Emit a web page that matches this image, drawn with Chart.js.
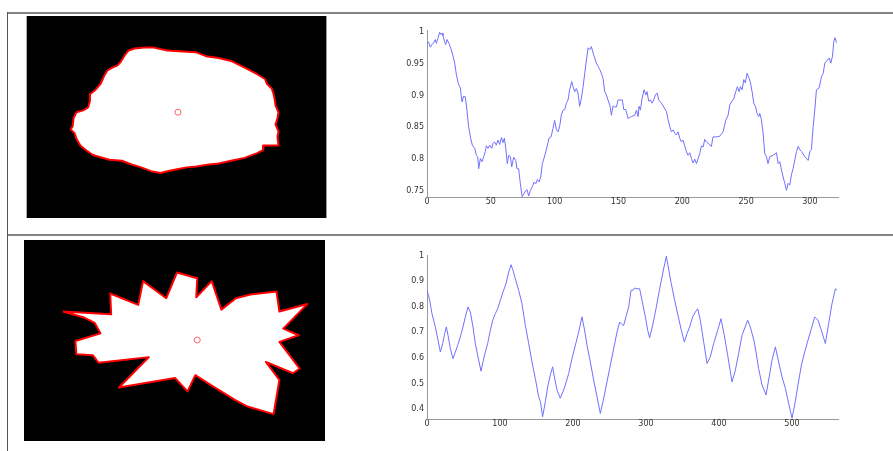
<!DOCTYPE html>
<html><head><meta charset="utf-8">
<script src="https://cdn.jsdelivr.net/npm/chart.js@4/dist/chart.umd.min.js"></script>
<style>
html,body{margin:0;padding:0;background:#fff;width:893px;height:451px;overflow:hidden}
body{position:relative}
canvas{position:absolute}
.ln{position:absolute;background:#858585}
</style></head><body>
<div class="ln" style="left:7px;top:12px;width:886px;height:2px"></div>
<div class="ln" style="left:7px;top:234px;width:886px;height:2px"></div>
<div class="ln" style="left:7px;top:12px;width:1px;height:439px;background:#555"></div>
<div class="ln" style="left:26px;top:16px;width:1px;height:202px;background:#aaa"></div>
<div class="ln" style="left:326px;top:16px;width:1px;height:202px;background:#999"></div>
<canvas id="img1" width="299" height="202" style="left:27px;top:16px;background:#000"></canvas>
<canvas id="img2" width="301" height="201" style="left:24px;top:240px;background:#000"></canvas>
<canvas id="c1" width="455" height="192" style="left:387px;top:25px"></canvas>
<canvas id="c2" width="455" height="189" style="left:387px;top:250px"></canvas>
<script>
// ---- shape outlines (image pixel coordinates) ----
const blobX = [100,106,116,126,140,156,170,180,193,206,220,233,241,243,248,250,251,252,255,254,252,255,254,255,240,239,233,220,206,193,183,170,160,150,140,133,123,113,103,93,80,70,63,56,50,46,44,40,42,43,46,53,58,60,60,66,71,75,78,83,88,91,93,96];
const blobY = [31,29,28,28,31,32,33,37,39,42,49,56,61,66,71,77,82,89,96,102,109,116,122,131,131,136,139,144,147,150,151,153,154,156,158,160,158,154,151,147,146,143,141,136,131,124,118,114,111,102,96,94,91,84,77,72,66,57,52,49,47,44,41,36];
const blobCentre = [151, 96];
const starX = [35,85,84,113,118,142,153,174,173,189,199,214,229,256,259,288,263,279,259,280,273,245,259,253,226,213,189,172,164,151,93,124,72,66,49,48,74,68,56];
const starY = [70,73,51,63,38,56,29,35,55,38,68,56,52,49,70,62,88,95,102,130,135,123,142,178,170,163,148,137,154,140,150,118,124,116,115,101,93,82,76];
const starCentre = [174, 100];

// ---- signature series ----
const s1X = [0,1.3,2.6,3.9,5.2,6.5,7.3,8.6,9.9,10.7,11.8,12.5,13.8,14.6,15.7,17.2,19,20.4,21.7,23,24.8,26.1,27.4,28.7,30,31.3,32.6,34.2,35.5,37.4,38.7,39.7,40.5,41.8,43.1,44.4,45.7,46.5,47.8,49.1,50.7,51.7,53,54.3,55.6,57,58.3,59.6,60.6,61.7,62.9,64,65.3,66.4,67.9,69.5,70.5,71.8,73.1,74.5,75.8,77.1,78.4,79.7,81,82.6,83.9,85.2,86.5,87.8,89.1,90.4,92.2,94,95.6,97.2,98.7,100,101.4,102.7,104,105.2,106.6,107.9,109.2,110.5,111.8,113.4,114.4,115.7,117,118.3,119.6,121,122.3,123.6,124.9,126.2,127.5,128.8,130.1,131.4,132.7,134,135.3,136.6,137.9,139.2,140.5,141.8,143.2,144.5,145.8,147.1,148.4,149.7,151,153.1,154.1,155.7,157.5,160.1,162.8,164.1,165.4,166.1,167.2,168.5,170.1,171.4,172.4,173.7,175,176.3,177.6,179,180.3,181.6,183.7,185.5,187.6,188.9,190.2,191.5,192.8,194.1,195.4,196.7,198,199.3,200.6,201.9,203.2,204.5,205.9,207.2,208.5,209.8,211.1,212.4,213.7,215,216.3,217.6,218.9,220.2,222.8,224.1,226.8,229.3,232,234,235.9,237.2,238.5,240.3,241.9,243.2,244.5,245.6,246.9,248.2,249.4,250.8,252.4,253.4,254.7,256,257.3,258.6,259.9,260.7,262,263.3,264.6,265.9,267.2,268.6,271.2,273.8,275.1,276.4,277.7,279,280.3,281.6,282.9,284.2,285.5,286.8,288.2,289.5,290.8,292.1,293.4,296,298.6,299.9,301.2,302.5,303.8,305.1,307.2,309.1,310.4,311.7,313,315.1,316.4,317.7,318.7,319.7,320.8];
const s1Y = [0.983,0.984,0.976,0.980,0.983,0.988,0.982,0.990,0.9995,0.996,0.998,0.994,0.985,0.980,0.988,0.982,0.972,0.962,0.951,0.933,0.917,0.912,0.890,0.899,0.898,0.877,0.851,0.833,0.822,0.817,0.806,0.804,0.785,0.801,0.796,0.804,0.812,0.821,0.817,0.822,0.817,0.825,0.827,0.822,0.830,0.823,0.834,0.826,0.833,0.817,0.793,0.806,0.804,0.788,0.803,0.798,0.785,0.785,0.762,0.741,0.745,0.750,0.752,0.742,0.751,0.757,0.764,0.761,0.768,0.764,0.772,0.793,0.805,0.819,0.833,0.835,0.848,0.861,0.846,0.843,0.852,0.869,0.877,0.878,0.888,0.893,0.909,0.922,0.914,0.906,0.911,0.904,0.883,0.896,0.914,0.935,0.956,0.975,0.972,0.977,0.967,0.959,0.951,0.946,0.941,0.935,0.927,0.906,0.901,0.893,0.885,0.869,0.884,0.882,0.882,0.893,0.893,0.893,0.878,0.878,0.864,0.867,0.869,0.877,0.867,0.883,0.877,0.896,0.909,0.901,0.906,0.891,0.893,0.888,0.893,0.901,0.904,0.893,0.888,0.882,0.875,0.862,0.851,0.843,0.846,0.841,0.838,0.843,0.833,0.827,0.830,0.821,0.812,0.806,0.810,0.801,0.794,0.800,0.793,0.801,0.809,0.821,0.819,0.831,0.827,0.825,0.820,0.835,0.835,0.836,0.843,0.861,0.869,0.885,0.890,0.895,0.906,0.914,0.906,0.914,0.909,0.925,0.920,0.935,0.927,0.920,0.906,0.888,0.883,0.872,0.867,0.872,0.862,0.841,0.809,0.804,0.793,0.804,0.806,0.810,0.793,0.796,0.783,0.772,0.762,0.751,0.762,0.759,0.775,0.785,0.799,0.812,0.820,0.815,0.812,0.804,0.798,0.812,0.815,0.851,0.877,0.909,0.912,0.930,0.935,0.951,0.954,0.959,0.951,0.962,0.985,0.991,0.983];
const s2X = [0,3.7,6.8,11.4,15.1,18.3,21.5,24.2,26.5,28.8,32,35.6,38.8,42,45.7,49.3,52.5,56.2,59.4,63,66.2,69.4,74,76.7,79.9,83.1,86.8,90,93.6,96.8,100.5,104.1,108.2,111.9,115.1,117.8,121,125.6,130.1,134.7,139.3,143.8,148.4,153,155.3,158.4,162.1,165.8,168.9,172.1,174.4,178.1,182.6,186.3,189.5,194.1,198.6,203.2,207.8,212.3,215.5,219.2,223.7,228.3,232.9,237.4,241.1,245.7,250.2,255.7,260.3,263.9,267.1,269.4,273.1,276.3,279.5,282.2,284.5,287.7,291.3,294.5,299.1,302.3,305,309.1,313.7,318.7,321.9,325.6,327.9,330.1,334.2,338.8,343.8,348.4,352.5,356.2,359.8,363.9,367.6,370.8,374.4,379,383.6,388.1,392.7,398.2,402.7,407.3,411.9,417.8,422.4,426.9,431.5,439.3,442.9,448.4,454.3,458.9,464.4,468,472.6,477.2,481.7,486.3,490.9,495.4,500,503.7,508.2,512.8,517.4,521.9,526.5,531.1,535.6,540.2,545.7,550.2,554.8,559.4,561.6];
const s2Y = [0.864,0.825,0.773,0.721,0.669,0.623,0.656,0.695,0.721,0.688,0.636,0.597,0.623,0.649,0.682,0.721,0.760,0.799,0.779,0.721,0.656,0.610,0.548,0.584,0.623,0.656,0.708,0.747,0.773,0.792,0.825,0.857,0.890,0.935,0.964,0.942,0.909,0.864,0.812,0.727,0.656,0.584,0.519,0.448,0.429,0.370,0.429,0.494,0.532,0.565,0.526,0.474,0.442,0.468,0.494,0.539,0.597,0.649,0.701,0.760,0.714,0.649,0.584,0.513,0.448,0.383,0.429,0.494,0.558,0.636,0.701,0.740,0.730,0.727,0.766,0.799,0.864,0.864,0.873,0.870,0.870,0.825,0.760,0.708,0.678,0.727,0.792,0.870,0.916,0.968,0.997,0.961,0.896,0.831,0.766,0.708,0.662,0.695,0.721,0.760,0.779,0.792,0.747,0.662,0.578,0.604,0.656,0.708,0.753,0.688,0.610,0.506,0.552,0.617,0.688,0.747,0.721,0.662,0.558,0.494,0.455,0.513,0.591,0.643,0.584,0.526,0.481,0.422,0.364,0.416,0.494,0.571,0.623,0.669,0.714,0.760,0.747,0.708,0.656,0.734,0.812,0.870,0.864];

// ---- tick labels ----
const x1Ticks = [0,50,100,150,200,250,300];
const y1Ticks = [0.75,0.8,0.85,0.9,0.95,1];
const x2Ticks = [0,100,200,300,400,500];
const y2Ticks = [0.4,0.5,0.6,0.7,0.8,0.9,1];

Chart.defaults.font.family = "'DejaVu Sans', 'Liberation Sans', sans-serif";

function shapeChart(id, xs, ys, centre, w, h) {
  const pts = xs.map((x, i) => ({x: x, y: ys[i]}));
  pts.push(pts[0]);
  new Chart(document.getElementById(id), {
    type: 'scatter',
    data: {datasets: [
      {data: [{x: centre[0], y: centre[1]}], pointRadius: 3, pointBorderWidth: 1,
       pointBorderColor: 'rgba(255,70,70,0.85)', pointBackgroundColor: 'rgba(0,0,0,0)', showLine: false},
      {data: pts, showLine: true, fill: 'shape', backgroundColor: '#ffffff', borderColor: '#ff0000',
       borderWidth: 2, pointRadius: 0, tension: 0, borderJoinStyle: 'round'}
    ]},
    options: {
      responsive: false, animation: false, events: [],
      layout: {padding: 0},
      plugins: {legend: {display: false}, tooltip: {enabled: false}},
      scales: {
        x: {type: 'linear', min: 0, max: w, display: false},
        y: {type: 'linear', min: 0, max: h, reverse: true, display: false}
      }
    }
  });
}

function lineChart(id, xs, ys, xmin, xmax, ymin, ymax, xt, yt) {
  const tickFont = {size: 8};
  new Chart(document.getElementById(id), {
    type: 'scatter',
    data: {datasets: [{data: xs.map((x, i) => ({x: x, y: ys[i]})), showLine: true,
      borderColor: 'rgb(112,112,255)', borderWidth: 1, pointRadius: 0, tension: 0, fill: false}]},
    options: {
      responsive: false, animation: false, events: [],
      layout: {padding: {top: 5, right: 4, left: 0, bottom: 0}},
      plugins: {legend: {display: false}, tooltip: {enabled: false}},
      scales: {
        x: {type: 'linear', min: xmin, max: xmax,
            afterBuildTicks: s => { s.ticks = xt.map(v => ({value: v})); },
            afterFit: s => { s.height = 20; },
            grid: {display: true, drawOnChartArea: false, drawTicks: false},
            border: {display: true, color: '#9a9a9a', width: 1},
            ticks: {padding: 0, color: '#333', font: tickFont, maxRotation: 0, autoSkip: false, callback: v => String(v)}},
        y: {type: 'linear', min: ymin, max: ymax,
            afterBuildTicks: s => { s.ticks = yt.map(v => ({value: v})); },
            afterFit: s => { s.width = 40; s.paddingTop = 0; s.paddingBottom = 0; },
            grid: {display: true, drawOnChartArea: false, drawTicks: false},
            border: {display: true, color: '#9a9a9a', width: 1},
            ticks: {padding: 3, color: '#333', font: tickFont, autoSkip: false, callback: v => String(v)}}
      }
    }
  });
}

shapeChart('img1', blobX, blobY, blobCentre, 299, 202);
shapeChart('img2', starX, starY, starCentre, 301, 201);
lineChart('c1', s1X, s1Y, 0, 322, 0.7405, 1.003, x1Ticks, y1Ticks);
lineChart('c2', s2X, s2Y, 0, 563, 0.361, 1.002, x2Ticks, y2Ticks);
</script>
</body></html>
